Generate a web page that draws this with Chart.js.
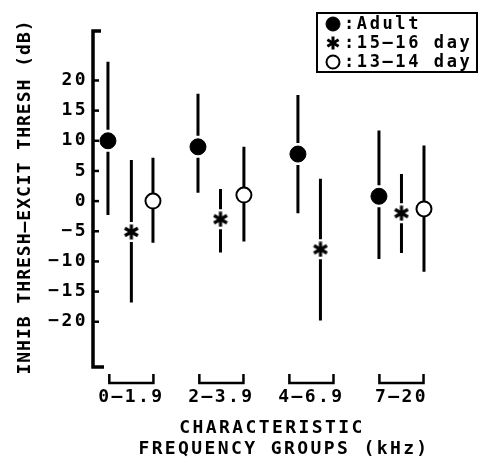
<!DOCTYPE html>
<html>
<head>
<meta charset="utf-8">
<script src="https://cdn.jsdelivr.net/npm/chart.js@4.4.0/dist/chart.umd.min.js"></script>
<style>
  html, body { margin: 0; padding: 0; background: #fff; }
</style>
</head>
<body>
<canvas id="grafico" width="483" height="460"></canvas>
<script>
// Grupos de frequência característica (kHz)
const grupos = ['0\u20131.9', '2\u20133.9', '4\u20136.9', '7\u201320'];
const grupoPos = [1, 2, 3, 4];

// Adultos
const adultoX = [0.74, 1.74, 2.85, 3.75];
const adultoMedia = [10, 9, 7.8, 0.8];
const adultoMax = [23.1, 17.8, 17.6, 11.7];
const adultoMin = [-2.3, 1.4, -2, -9.6];

// 15-16 dias
const jovemX = [1.0, 1.99, 3.1, 4.0];
const jovemMedia = [-5.1, -3, -8, -2];
const jovemMax = [6.8, 2, 3.7, 4.5];
const jovemMin = [-16.8, -8.5, -19.8, -8.6];

// 13-14 dias (sem dados no grupo 4-6.9)
const filhoteX = [1.24, 2.25, 4.25];
const filhoteMedia = [0, 1, -1.3];
const filhoteMax = [7.2, 9, 9.2];
const filhoteMin = [-6.9, -6.7, -11.7];

const yTicks = [-20, -15, -10, -5, 0, 5, 10, 15, 20];

const FONTE = '"DejaVu Sans Mono", monospace';

// Asterisco de seis pontas usado como marcador
function criarAsterisco(tam, espessura) {
    const c = document.createElement('canvas');
    c.width = tam;
    c.height = tam;
    const g = c.getContext('2d');
    g.strokeStyle = '#000';
    g.lineWidth = espessura;
    g.translate(tam / 2, tam / 2);
    const r = tam / 2 - 0.5;
    for (let k = 0; k < 3; k++) {
        const a = Math.PI / 2 + k * Math.PI / 3;
        g.beginPath();
        g.moveTo(Math.cos(a) * r, Math.sin(a) * r);
        g.lineTo(-Math.cos(a) * r, -Math.sin(a) * r);
        g.stroke();
    }
    return c;
}
const asterisco = criarAsterisco(16, 3.2);
const asteriscoPeq = criarAsterisco(14, 3);

function pontos(xs, ys) {
    return xs.map((x, i) => ({ x: x, y: ys[i] }));
}

// Barras de erro com um intervalo em volta do marcador
const barrasErro = {
    id: 'barrasErro',
    beforeDatasetsDraw(chart) {
        const { ctx, scales: { x, y } } = chart;
        ctx.save();
        ctx.strokeStyle = '#000';
        ctx.lineWidth = 3;
        chart.data.datasets.forEach(ds => {
            ds.data.forEach((p, i) => {
                const px = x.getPixelForValue(p.x);
                const py = y.getPixelForValue(p.y);
                ctx.beginPath();
                ctx.moveTo(px, y.getPixelForValue(ds.erroMax[i]));
                ctx.lineTo(px, py - ds.folga);
                ctx.moveTo(px, py + ds.folga);
                ctx.lineTo(px, y.getPixelForValue(ds.erroMin[i]));
                ctx.stroke();
            });
        });
        ctx.restore();
    }
};

// Eixo Y com colchetes, marcas internas, colchetes dos grupos, títulos e legenda
const desenhoEixos = {
    id: 'desenhoEixos',
    beforeDraw(chart) {
        chart.ctx.letterSpacing = '2.4px';
    },
    afterDraw(chart) {
        const { ctx, chartArea, scales: { x, y } } = chart;
        ctx.save();
        ctx.strokeStyle = '#000';
        ctx.fillStyle = '#000';

        // linha do eixo Y
        const ex = chartArea.left - 1;
        ctx.lineWidth = 3.5;
        ctx.beginPath();
        ctx.moveTo(ex + 8, chartArea.top);
        ctx.lineTo(ex, chartArea.top);
        ctx.lineTo(ex, chartArea.bottom);
        ctx.lineTo(ex + 11, chartArea.bottom);
        ctx.stroke();

        // marcas do eixo Y, para dentro
        ctx.lineWidth = 2.5;
        yTicks.forEach(v => {
            const py = y.getPixelForValue(v);
            ctx.beginPath();
            ctx.moveTo(ex, py);
            ctx.lineTo(ex + 6, py);
            ctx.stroke();
        });

        // colchetes sob cada grupo
        ctx.lineWidth = 2.5;
        grupoPos.forEach(v => {
            const a = x.getPixelForValue(v - 0.245);
            const b = x.getPixelForValue(v + 0.245);
            const topo = chartArea.bottom + 7;
            const base = chartArea.bottom + 16;
            ctx.beginPath();
            ctx.moveTo(a, topo);
            ctx.lineTo(a, base);
            ctx.lineTo(b, base);
            ctx.lineTo(b, topo);
            ctx.stroke();
        });

        // título do eixo X
        ctx.font = 'bold 18px ' + FONTE;
        ctx.letterSpacing = '2.4px';
        ctx.textAlign = 'center';
        ctx.textBaseline = 'middle';
        ctx.fillText('CHARACTERISTIC', 272, 428);
        ctx.fillText('FREQUENCY GROUPS (kHz)', 284, 449);

        // título do eixo Y
        ctx.save();
        ctx.translate(25, 197);
        ctx.rotate(-Math.PI / 2);
        ctx.letterSpacing = '1px';
        ctx.fillText('INHIB THRESH\u2013EXCIT THRESH (dB)', 0, 0);
        ctx.restore();

        // legenda
        const lx = 317, ly = 13, lw = 160, lh = 59;
        ctx.lineWidth = 2;
        ctx.strokeRect(lx, ly, lw, lh);
        const itens = [
            { ds: chart.data.datasets[0], txt: ':Adult', y: 24, raio: 7 },
            { ds: chart.data.datasets[1], txt: ':15\u201316 day', y: 43, raio: 7 },
            { ds: chart.data.datasets[2], txt: ':13\u201314 day', y: 62, raio: 6.5 }
        ];
        ctx.font = 'bold 17px ' + FONTE;
        ctx.textAlign = 'left';
        ctx.letterSpacing = '2.6px';
        itens.forEach(it => {
            if (it.ds.pointStyle === 'circle') {
                ctx.beginPath();
                ctx.arc(333, it.y, it.raio, 0, Math.PI * 2);
                ctx.fillStyle = it.ds.backgroundColor;
                ctx.fill();
                ctx.lineWidth = it.ds.borderWidth;
                ctx.strokeStyle = '#000';
                ctx.stroke();
            } else {
                Chart.helpers.drawPoint(ctx, { pointStyle: asteriscoPeq, radius: it.raio }, 333, it.y);
            }
            ctx.fillStyle = '#000';
            ctx.fillText(it.txt, 344, it.y + 1);
        });
        ctx.restore();
    }
};

new Chart(document.getElementById('grafico'), {
    type: 'scatter',
    data: {
        datasets: [
            {
                label: 'Adult',
                data: pontos(adultoX, adultoMedia),
                erroMax: adultoMax,
                erroMin: adultoMin,
                folga: 11,
                pointStyle: 'circle',
                pointRadius: 8,
                backgroundColor: '#000',
                borderColor: '#000',
                borderWidth: 1
            },
            {
                label: '15-16 day',
                data: pontos(jovemX, jovemMedia),
                erroMax: jovemMax,
                erroMin: jovemMin,
                folga: 10,
                pointStyle: asterisco,
                pointRadius: 8,
                backgroundColor: '#000',
                borderColor: '#000',
                borderWidth: 1
            },
            {
                label: '13-14 day',
                data: pontos(filhoteX, filhoteMedia),
                erroMax: filhoteMax,
                erroMin: filhoteMin,
                folga: 8,
                pointStyle: 'circle',
                pointRadius: 7.5,
                backgroundColor: '#fff',
                borderColor: '#000',
                borderWidth: 2
            }
        ]
    },
    options: {
        responsive: false,
        animation: false,
        devicePixelRatio: 1,
        layout: { padding: { top: 31, left: 0, right: 3, bottom: 0 } },
        plugins: {
            legend: { display: false },
            tooltip: { enabled: false }
        },
        scales: {
            x: {
                type: 'linear',
                min: 0.585,
                max: 4.8,
                afterBuildTicks: scale => { scale.ticks = grupoPos.map(v => ({ value: v })); },
                afterFit: scale => { scale.height = 93; },
                ticks: {
                    color: '#000',
                    padding: 20,
                    maxRotation: 0,
                    autoSkip: false,
                    font: { family: FONTE, size: 18, weight: 'bold' },
                    callback: v => grupos[grupoPos.indexOf(v)]
                },
                grid: { display: false, drawTicks: false },
                border: { display: false }
            },
            y: {
                type: 'linear',
                min: -27.5,
                max: 28.2,
                afterBuildTicks: scale => { scale.ticks = yTicks.map(v => ({ value: v })); },
                afterFit: scale => { scale.width = 94; },
                ticks: {
                    color: '#000',
                    padding: 6,
                    font: { family: FONTE, size: 18, weight: 'bold' },
                    callback: v => (v < 0 ? '\u2212' + Math.abs(v) : String(v))
                },
                grid: { display: false, drawTicks: false },
                border: { display: false }
            }
        }
    },
    plugins: [barrasErro, desenhoEixos]
});
</script>
</body>
</html>
